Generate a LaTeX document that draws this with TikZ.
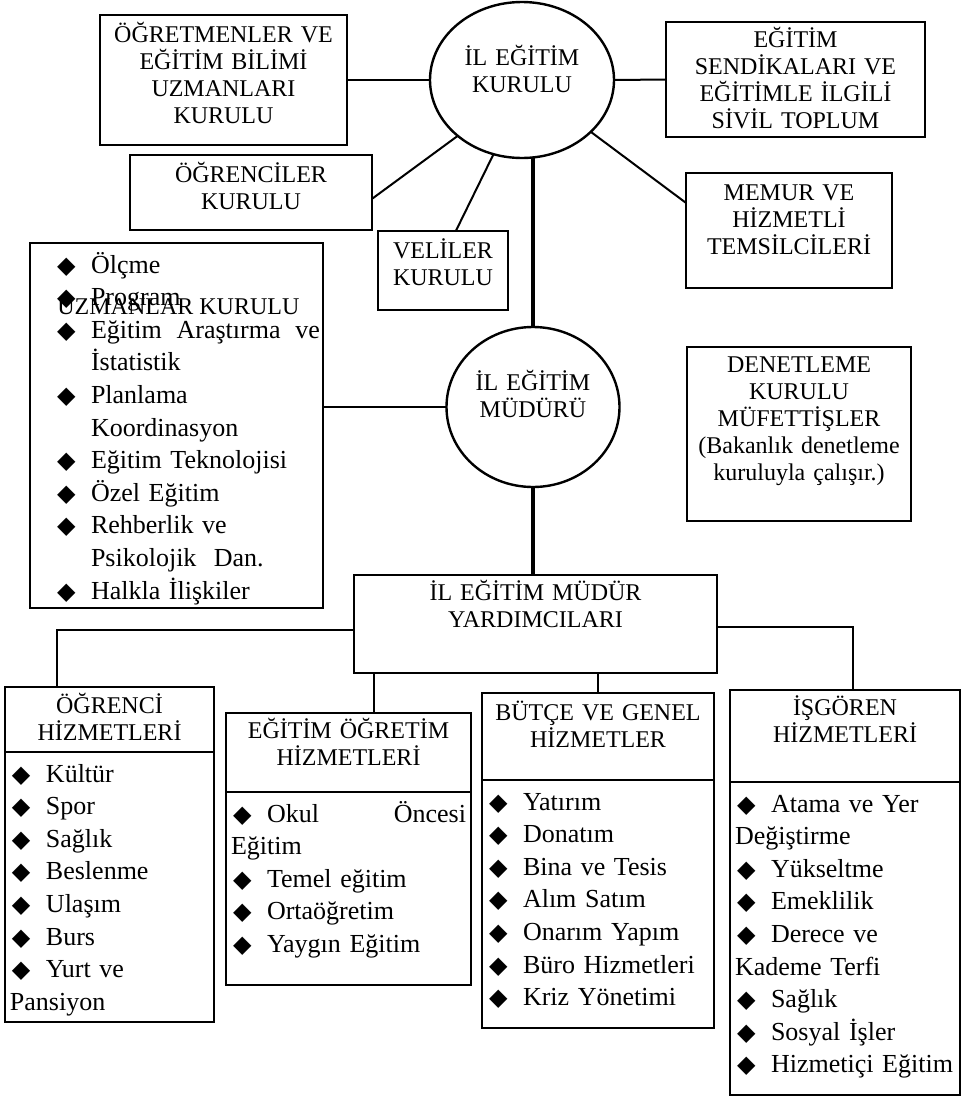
\documentclass[tikz,border=0pt]{standalone}
\usepackage{fontspec}
\setmainfont{Liberation Serif}
\newfontfamily\bulletfont{DejaVu Sans}
\usetikzlibrary{positioning,shapes.geometric}

\newcommand{\headfont}{\fontsize{12}{13.5}\selectfont}
\newcommand{\listfont}{\fontsize{13}{16.3}\selectfont}
\newcommand{\bul}{\hspace*{1pt}\makebox[17pt][l]{\bulletfont\fontsize{12}{12}\selectfont ◆}}
\newcommand{\itm}[1]{\mbox{\bul #1}}
\newcommand{\hang}{\hspace*{18pt}}

\tikzset{
  box/.style={draw,line width=1.4pt,inner xsep=2pt,inner ysep=0pt,outer sep=0pt,align=center,font=\headfont},
  listbox/.style={box,align=left,inner xsep=2.5pt,font=\listfont},
  oval/.style={draw,ellipse,line width=1.2pt,inner sep=0pt,outer sep=0pt,text width=60pt,align=center,font=\headfont,text height=10pt},
  link/.style={line width=1pt},
  trunk/.style={line width=2.4pt},
}

\begin{document}
\begin{tikzpicture}[x=0.5pt,y=-0.5pt]
  \useasboundingbox (0,0) rectangle (962,1098);

  % councils round the top oval
  \node[oval,minimum width=92pt,minimum height=78pt,text depth=25pt] (kurul) at (522,80) {İL EĞİTİM\\KURULU};
  \node[box,anchor=north west,text width=119.5pt,text height=13.5pt,text depth=51.5pt] (ogretmen) at (100,15) {ÖĞRETMENLER VE\\EĞİTİM BİLİMİ\\UZMANLARI\\KURULU};
  \node[box,anchor=north west,text width=125.5pt,text height=12.5pt,text depth=45pt] (sendika) at (666,22) {EĞİTİM\\SENDİKALARI VE\\EĞİTİMLE İLGİLİ\\SİVİL TOPLUM};
  \node[box,anchor=north west,text width=117pt,text height=13.5pt,text depth=24pt] (ogrenciler) at (130,155) {ÖĞRENCİLER\\KURULU};
  \node[box,anchor=north west,text width=61pt,text height=13.5pt,text depth=26pt] (veliler) at (378,231) {VELİLER\\KURULU};
  \node[box,anchor=north west,text width=99pt,text height=13.5pt,text depth=44pt] (memur) at (686,173) {MEMUR VE\\HİZMETLİ\\TEMSİLCİLERİ};

  % director and the side boxes
  \node[oval,minimum width=86.5pt,minimum height=80pt,text depth=27pt] (mudur) at (533,407) {İL EĞİTİM\\MÜDÜRÜ};
  \node[box,anchor=north west,text width=108pt,text height=12.5pt,text depth=74.5pt] (denetleme) at (687,347) {DENETLEME\\KURULU\\MÜFETTİŞLER\\(Bakanlık denetleme\\kuruluyla çalışır.)};
  \node[listbox,anchor=north west,inner xsep=1.5pt,text width=143.5pt,text height=15pt,text depth=167.5pt] (uzman) at (30,243) {\leftskip=11pt
    \itm{Ölçme}\\
    \itm{Program}\\
    \bul Eğitim\hfill Araştırma\hfill ve\\
    \hang İstatistik\\
    \itm{Planlama}\\
    \hang Koordinasyon\\
    \itm{Eğitim Teknolojisi}\\
    \itm{Özel Eğitim}\\
    \itm{Rehberlik ve}\\
    \hang Psikolojik\ \ Dan.\\
    \itm{Halkla İlişkiler}\par};
  \node[anchor=base west,font=\headfont,inner sep=0pt] (uzmanbaslik) at (57,314) {UZMANLAR KURULU};

  % deputies and the four services
  \node[box,anchor=north west,text width=177.5pt,text height=12.5pt,text depth=36.5pt] (yardimci) at (354,575) {İL EĞİTİM MÜDÜR\\YARDIMCILARI};

  \node[box,anchor=north west,text width=100.5pt,text height=13pt,text depth=19.5pt] (ogrenci) at (5,687) {ÖĞRENCİ\\HİZMETLERİ};
  \node[listbox,below=0pt of ogrenci,text width=99.5pt,text height=15pt,text depth=120pt] (ogrencilist) {%
    \itm{Kültür}\\
    \itm{Spor}\\
    \itm{Sağlık}\\
    \itm{Beslenme}\\
    \itm{Ulaşım}\\
    \itm{Burs}\\
    \itm{Yurt ve}\\
    Pansiyon};

  \node[box,anchor=north west,text width=118.5pt,text height=12.5pt,text depth=27pt] (egitim) at (226,713) {EĞİTİM ÖĞRETİM\\HİZMETLERİ};
  \node[listbox,below=0pt of egitim,text width=117.5pt,text height=15pt,text depth=81.5pt] (egitimlist) {%
    \bul Okul\hfill Öncesi\\
    Eğitim\\
    \itm{Temel eğitim}\\
    \itm{Ortaöğretim}\\
    \itm{Yaygın Eğitim}};

  \node[box,anchor=north west,text width=112pt,text height=13.5pt,text depth=30pt] (butce) at (482,693) {BÜTÇE VE GENEL\\HİZMETLER};
  \node[listbox,below=0pt of butce,text width=111pt,text height=15pt,text depth=109pt] (butcelist) {%
    \itm{Yatırım}\\
    \itm{Donatım}\\
    \itm{Bina ve Tesis}\\
    \itm{Alım Satım}\\
    \itm{Onarım Yapım}\\
    \itm{Büro Hizmetleri}\\
    \itm{Kriz Yönetimi}};

  \node[box,anchor=north west,text width=111pt,text height=12.5pt,text depth=33.5pt] (isgoren) at (730,690) {İŞGÖREN\\HİZMETLERİ};
  \node[listbox,below=0pt of isgoren,text width=110pt,text height=15pt,text depth=141.5pt] (isgorenlist) {%
    \itm{Atama ve Yer}\\
    Değiştirme\\
    \itm{Yükseltme}\\
    \itm{Emeklilik}\\
    \itm{Derece ve}\\
    Kademe Terfi\\
    \itm{Sağlık}\\
    \itm{Sosyal İşler}\\
    \itm{Hizmetiçi Eğitim}};

  % connectors
  \draw[link] (ogretmen.east) -- (kurul.west);
  \draw[link] (kurul.east) -- (sendika.west);
  \draw[link] (ogrenciler.-3.5) -- (kurul.221);
  \draw[link] (veliler.72) -- (kurul.249);
  \draw[link] (kurul.-37) -- (memur.165);
  \draw[trunk] (mudur.north) -- (mudur.north |- kurul.south);
  \draw[link] (mudur.west) -- (mudur.west -| uzman.east);
  \draw[trunk] (mudur.south) -- (mudur.south |- yardimci.north);
  \draw[link] (yardimci.182) -| (ogrenci.148);
  \draw[link] (yardimci.-1) -| (isgoren.80);
  \draw[link] (egitim.57) -- (egitim.57 |- yardimci.south);
  \draw[link] (butce.north) -- (butce.north |- yardimci.south);
\end{tikzpicture}
\end{document}
